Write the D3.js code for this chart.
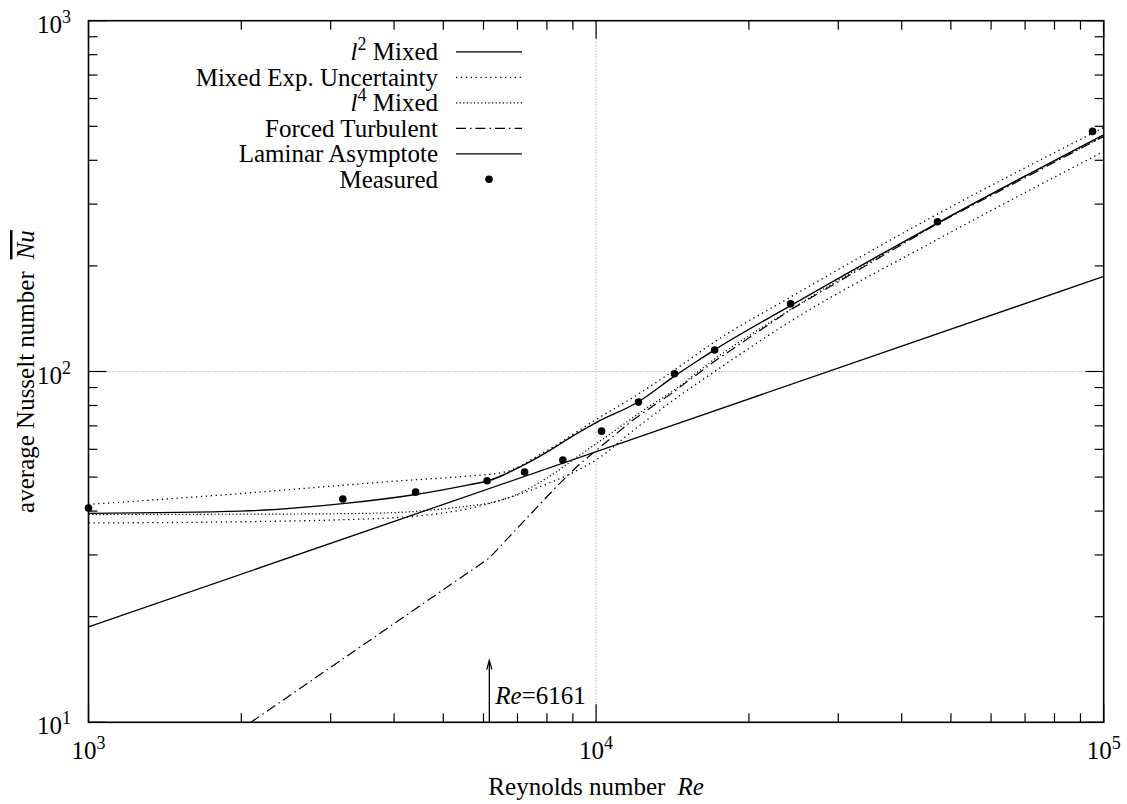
<!DOCTYPE html>
<html>
<head>
<meta charset="utf-8">
<script src="https://cdn.jsdelivr.net/npm/d3@7"></script>
<style>
  html, body { margin: 0; padding: 0; background: #fff; }
  svg { display: block; }
  svg text { font-family: 'Liberation Serif', 'Times New Roman', 'DejaVu Serif', serif !important; fill: #000; }
</style>
</head>
<body>
<svg id="chart" width="1127" height="804" font-family="Liberation Serif, Times New Roman, DejaVu Serif, serif"></svg>
<script>
// ---------------- data ----------------
const measuredRe = [1000, 3170, 4410, 6100, 7230, 8600, 10250, 12120, 14270, 17120, 24160, 47050, 95060];
const measuredNu = [40.8, 43.3, 45.3, 48.8, 51.7, 55.9, 67.6, 81.8, 98.5, 115.1, 155.9, 267.2, 483.5];

const l2Re = [1000, 2000, 3170, 4410, 5640, 6161, 7000, 8000, 9000, 10000, 12120, 14270, 15770, 17120, 24160, 47050, 100000];
const l2Nu = [39.4, 40.0, 42.0, 44.6, 47.6, 48.9, 53.0, 58.9, 65.5, 71.5, 82.0, 97.0, 106.8, 115.3, 154.0, 265.0, 472.8];

const upperRe = [1000, 2000, 3170, 4108, 5640, 6570, 8000, 10000, 12000, 14550, 17120, 24160, 47050, 100000];
const upperNu = [41.8, 44.9, 47.4, 48.8, 50.4, 51.6, 59.5, 73.0, 85.5, 103.0, 121.5, 163.0, 281.0, 496.0];

const lowerRe = [1000, 2000, 3170, 4108, 5000, 6161, 7000, 8000, 9000, 10000, 12000, 14550, 17120, 24160, 47050, 100000];
const lowerNu = [37.0, 37.3, 37.8, 38.4, 39.5, 42.0, 44.5, 47.8, 51.5, 56.0, 69.0, 85.0, 100.0, 139.0, 238.0, 424.0];

const l4Re = [1000, 2000, 3000, 4000, 5000, 5640, 6161, 7000, 8000, 9248, 10755, 12760, 14020, 17120, 24160, 47050, 100000];
const l4Nu = [39.1, 39.2, 39.3, 39.6, 40.6, 41.4, 42.2, 44.7, 49.7, 57.5, 67.0, 79.8, 87.1, 108.5, 150.2, 264.0, 468.0];

const turbRe = [2089, 6161, 7000, 8380, 9248, 10755, 11780, 12760, 14020, 17120, 24160, 47050, 100000];
const turbNu = [10.0, 29.4, 35.8, 47.2, 54.2, 65.0, 72.5, 78.6, 86.2, 107.0, 150.0, 264.0, 468.0];

const laminarRe = [1000, 100000];
const laminarNu = [18.7, 186.6];

const criticalRe = 6161;
const arrowNu = [10, 15];

const xMajorTicks = [1e3, 1e4, 1e5];
const xMajorExp = ["3", "4", "5"];
const yMajorTicks = [10, 100, 1000];
const yMajorExp = ["1", "2", "3"];
const xMinorTicks = [2e3,3e3,4e3,5e3,6e3,7e3,8e3,9e3,2e4,3e4,4e4,5e4,6e4,7e4,8e4,9e4];
const yMinorTicks = [20,30,40,50,60,70,80,90,200,300,400,500,600,700,800,900];
const xGrid = [1e4];
const yGrid = [100];

// ---------------- layout ----------------
const L = 88.5, R = 1103.7, T = 20.7, B = 722.3;
const FS = 25, SUP = 18;
const FONT = "'Liberation Serif', 'Times New Roman', 'DejaVu Serif', serif";

const svg = d3.select("#chart");
const x = d3.scaleLog().domain([1e3, 1e5]).range([L, R]);
const y = d3.scaleLog().domain([10, 1000]).range([B, T]);

svg.append("defs").append("clipPath").attr("id", "clip")
  .append("rect").attr("x", L).attr("y", T).attr("width", R - L).attr("height", B - T);

// grid
const grid = svg.append("g").attr("stroke", "#9a9a9a").attr("stroke-width", 1).attr("stroke-dasharray", "1,2");
xGrid.forEach(v => grid.append("line").attr("x1", x(v)).attr("x2", x(v)).attr("y1", T).attr("y2", B));
yGrid.forEach(v => grid.append("line").attr("x1", L).attr("x2", R).attr("y1", y(v)).attr("y2", y(v)));

// curves
const zip = (a, b) => a.map((v, i) => [v, b[i]]);
const smooth = d3.line().x(d => x(d[0])).y(d => y(d[1])).curve(d3.curveMonotoneX);
const straight = d3.line().x(d => x(d[0])).y(d => y(d[1])).curve(d3.curveLinear);
const plot = svg.append("g").attr("clip-path", "url(#clip)").attr("fill", "none").attr("stroke", "#000");

const series = [
  { data: zip(laminarRe, laminarNu), dash: null, w: 1.3, gen: straight },
  { data: zip(turbRe, turbNu), dash: "10,4,1.5,4", w: 1.2, gen: straight },
  { data: zip(upperRe, upperNu), dash: "1.3,3.6", w: 1.3, gen: smooth },
  { data: zip(lowerRe, lowerNu), dash: "1.3,3.6", w: 1.3, gen: smooth },
  { data: zip(l4Re, l4Nu), dash: "1.2,2.4", w: 1.2, gen: smooth },
  { data: zip(l2Re, l2Nu), dash: null, w: 1.4, gen: smooth }
];
series.forEach(s => {
  const p = plot.append("path").attr("d", s.gen(s.data)).attr("stroke-width", s.w);
  if (s.dash) p.attr("stroke-dasharray", s.dash);
});

// measured points
svg.append("g").selectAll("circle").data(zip(measuredRe, measuredNu)).join("circle")
  .attr("cx", d => x(d[0])).attr("cy", d => y(d[1])).attr("r", 3.8).attr("fill", "#000");

// frame
svg.append("rect").attr("x", L).attr("y", T).attr("width", R - L).attr("height", B - T)
  .attr("fill", "none").attr("stroke", "#000").attr("stroke-width", 1.6);

// ticks (inward, mirrored)
const ticks = svg.append("g").attr("stroke", "#000").attr("stroke-width", 1.2);
const MAJ = 18, MIN = 9;
function xt(v, len) {
  ticks.append("line").attr("x1", x(v)).attr("x2", x(v)).attr("y1", B).attr("y2", B - len);
  ticks.append("line").attr("x1", x(v)).attr("x2", x(v)).attr("y1", T).attr("y2", T + len);
}
function yt(v, len) {
  ticks.append("line").attr("y1", y(v)).attr("y2", y(v)).attr("x1", L).attr("x2", L + len);
  ticks.append("line").attr("y1", y(v)).attr("y2", y(v)).attr("x1", R).attr("x2", R - len);
}
xMinorTicks.forEach(v => xt(v, MIN));
yMinorTicks.forEach(v => yt(v, MIN));
xMajorTicks.forEach(v => xt(v, MAJ));
yMajorTicks.forEach(v => yt(v, MAJ));

function txt(g) {
  return g.append("text").attr("font-family", FONT).style("font-family", FONT);
}

// tick labels
function powLabel(g, px, py, exp, anchor) {
  const t = txt(g).attr("x", px).attr("y", py).attr("font-size", FS).attr("text-anchor", anchor);
  t.append("tspan").text("10");
  t.append("tspan").attr("font-size", SUP).attr("dy", -10).text(exp);
  return t;
}
const labels = svg.append("g");
xMajorTicks.forEach((v, i) => powLabel(labels, x(v), B + 37, xMajorExp[i], "middle"));
yMajorTicks.forEach((v, i) => powLabel(labels, 71, y(v) + 12, yMajorExp[i], "end"));

// axis titles
const xt1 = txt(svg).attr("x", (L + R) / 2).attr("y", 795).attr("font-size", FS).attr("text-anchor", "middle");
xt1.append("tspan").text("Reynolds number");
xt1.append("tspan").attr("dx", 12).attr("font-style", "italic").text("Re");

const yt1 = txt(svg).attr("transform", `translate(34,${(T + B) / 2}) rotate(-90)`)
  .attr("font-size", FS).attr("text-anchor", "middle");
yt1.append("tspan").text("average Nusselt number");
yt1.append("tspan").attr("dx", 12).attr("font-style", "italic")
  .style("text-decoration", "overline").text("Nu");

// Re critical arrow
const ax = x(criticalRe), ay0 = y(arrowNu[0]), ay1 = y(arrowNu[1]);
svg.append("line").attr("x1", ax).attr("x2", ax).attr("y1", ay0).attr("y2", ay1)
  .attr("stroke", "#000").attr("stroke-width", 1.3);
svg.append("path").attr("d", `M${ax - 2.6},${ay1 + 9} L${ax},${ay1} L${ax + 2.6},${ay1 + 9}`)
  .attr("fill", "none").attr("stroke", "#000").attr("stroke-width", 1.2);
const ct = txt(svg).attr("x", ax + 6).attr("y", 704).attr("font-size", FS);
ct.append("tspan").attr("font-style", "italic").text("Re");
ct.append("tspan").text("=" + criticalRe);

// legend
const legendLabels = ["l2 Mixed", "Mixed Exp. Uncertainty", "l4 Mixed", "Forced Turbulent", "Laminar Asymptote", "Measured"];
const legendDash = [null, "1.3,3.6", "1.2,2.4", "10,4,1.5,4", null, "dot"];
const leg = svg.append("g");
const lx = 438, s0 = 456, s1 = 522, ly0 = 51.8, dyRow = 25.5;
legendLabels.forEach((lab, i) => {
  const cy = ly0 + i * dyRow;
  const t = txt(leg).attr("x", lx).attr("y", cy + 8.5).attr("font-size", FS).attr("text-anchor", "end");
  if (i === 0 || i === 2) {
    t.append("tspan").attr("font-style", "italic").text("l");
    t.append("tspan").attr("font-size", SUP).attr("dy", -10).text(i === 0 ? "2" : "4");
    t.append("tspan").attr("dy", 10).text(" Mixed");
  } else {
    t.text(lab);
  }
  if (legendDash[i] === "dot") {
    leg.append("circle").attr("cx", (s0 + s1) / 2).attr("cy", cy).attr("r", 3.8).attr("fill", "#000");
  } else {
    const l = leg.append("line").attr("x1", s0).attr("x2", s1).attr("y1", cy).attr("y2", cy)
      .attr("stroke", "#000").attr("stroke-width", 1.3);
    if (legendDash[i]) l.attr("stroke-dasharray", legendDash[i]);
  }
});
</script>
</body>
</html>
